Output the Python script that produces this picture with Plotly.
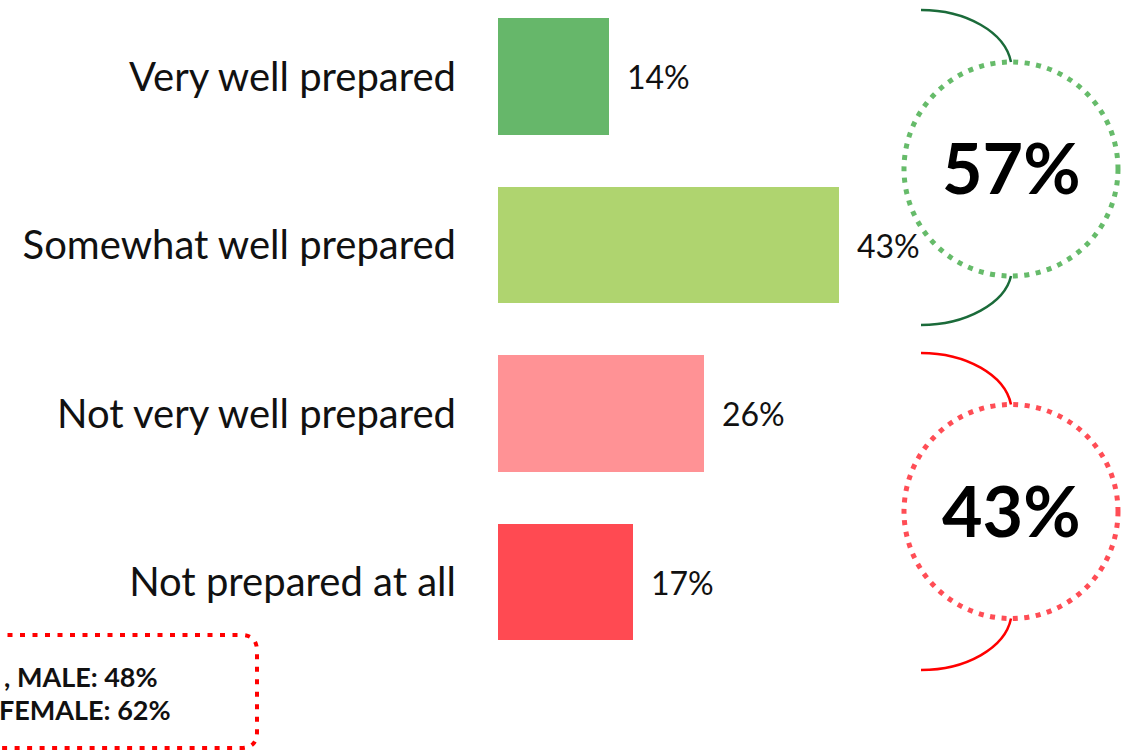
import plotly.graph_objects as go

# Survey responses: how well prepared respondents feel
categories = ["Very well prepared", "Somewhat well prepared",
              "Not very well prepared", "Not prepared at all"]
values = [14, 43, 26, 17]
bar_colors = ["#66B76A", "#AFD46F", "#FF9295", "#FF4A52"]

# Gender breakdown shown in the callout box
gender_lines = [", MALE: 48%", "FEMALE: 62%"]

prepared_total = values[0] + values[1]
unprepared_total = values[2] + values[3]

W, H = 1138, 751
PX_PER_PCT = 7.93
BAR_X0 = 498
ROW = 168.5
FIRST_ROW_Y = 76.5


def px(x):
    """Horizontal pixel -> paper fraction."""
    return x / W


def py(y):
    """Vertical pixel (from top) -> paper fraction."""
    return 1 - y / H


fig = go.Figure()

fig.add_trace(go.Bar(
    x=values, y=categories, orientation="h",
    marker=dict(color=bar_colors, line=dict(width=0)),
    width=0.694, hoverinfo="skip", showlegend=False,
))

y_top = -FIRST_ROW_Y / ROW
y_bottom = y_top + H / ROW

fig.update_layout(
    width=W, height=H,
    margin=dict(l=0, r=0, t=0, b=0),
    paper_bgcolor="white", plot_bgcolor="white",
    bargap=0,
    xaxis=dict(domain=[BAR_X0 / W, 1], range=[0, (W - BAR_X0) / PX_PER_PCT],
               visible=False, fixedrange=True),
    yaxis=dict(range=[y_bottom, y_top], type="category",
               categoryorder="array", categoryarray=categories,
               showgrid=False, zeroline=False, showline=False,
               ticks="", ticklabelstandoff=41,
               tickfont=dict(family="Lato", size=40, color="#111111"),
               fixedrange=True),
)

# Value labels beside each bar
for cat, v in zip(categories, values):
    fig.add_annotation(x=v, y=cat, xref="x", yref="y", text=f"{v}%",
                       showarrow=False, xanchor="left", yanchor="middle",
                       xshift=16, font=dict(family="Lato", size=32, color="#111111"))

# Dotted summary circles with bracket connectors
groups = [
    dict(total=prepared_total, cx=1011, cy=169, r=107, dot="#66BB6A",
         bracket="#1B6B3A", top=(921, 10), bot=(921, 325)),
    dict(total=unprepared_total, cx=1011, cy=511.5, r=107, dot="#FF4D55",
         bracket="#FF0000", top=(921, 353), bot=(921, 670)),
]

for g in groups:
    cx, cy, r = g["cx"], g["cy"], g["r"]
    fig.add_shape(type="circle", xref="paper", yref="paper",
                  x0=px(cx - r), x1=px(cx + r), y0=py(cy + r), y1=py(cy - r),
                  line=dict(color=g["dot"], width=5, dash="5px,6.5px"))
    tx, ty = g["top"]
    ex, ey = cx, cy - r
    fig.add_shape(type="path", xref="paper", yref="paper",
                  path=(f"M {px(tx)},{py(ty)} C {px(tx + 45)},{py(ty)} "
                        f"{px(ex - 6)},{py(ty + 22)} {px(ex)},{py(ey)}"),
                  line=dict(color=g["bracket"], width=2.5))
    bx, by = g["bot"]
    sy = cy + r
    fig.add_shape(type="path", xref="paper", yref="paper",
                  path=(f"M {px(ex)},{py(sy)} C {px(ex - 6)},{py(by - 22)} "
                        f"{px(bx + 45)},{py(by)} {px(bx)},{py(by)}"),
                  line=dict(color=g["bracket"], width=2.5))
    fig.add_annotation(x=px(cx), y=py(cy - 2), xref="paper", yref="paper",
                       text=f"<b>{g['total']}%</b>", showarrow=False,
                       xanchor="center", yanchor="middle",
                       font=dict(family="Lato", size=70, color="#000000"))

# Callout box with gender breakdown
bx0, bx1, by0, by1, rad = -30, 257, 635, 748, 16
box_path = (f"M {px(bx0)},{py(by0)} L {px(bx1 - rad)},{py(by0)} "
            f"Q {px(bx1)},{py(by0)} {px(bx1)},{py(by0 + rad)} "
            f"L {px(bx1)},{py(by1 - rad)} Q {px(bx1)},{py(by1)} {px(bx1 - rad)},{py(by1)} "
            f"L {px(bx0)},{py(by1)}")
fig.add_shape(type="path", xref="paper", yref="paper", path=box_path,
              line=dict(color="#FF0000", width=4, dash="5px,7.5px"))

for text, x_end, y_mid in zip(gender_lines, [160, 173], [676, 709]):
    fig.add_annotation(x=px(x_end), y=py(y_mid), xref="paper", yref="paper",
                       text=f"<b>{text}</b>", showarrow=False,
                       xanchor="right", yanchor="middle",
                       font=dict(family="Lato", size=27, color="#111111"))

fig.write_html("out.html")
